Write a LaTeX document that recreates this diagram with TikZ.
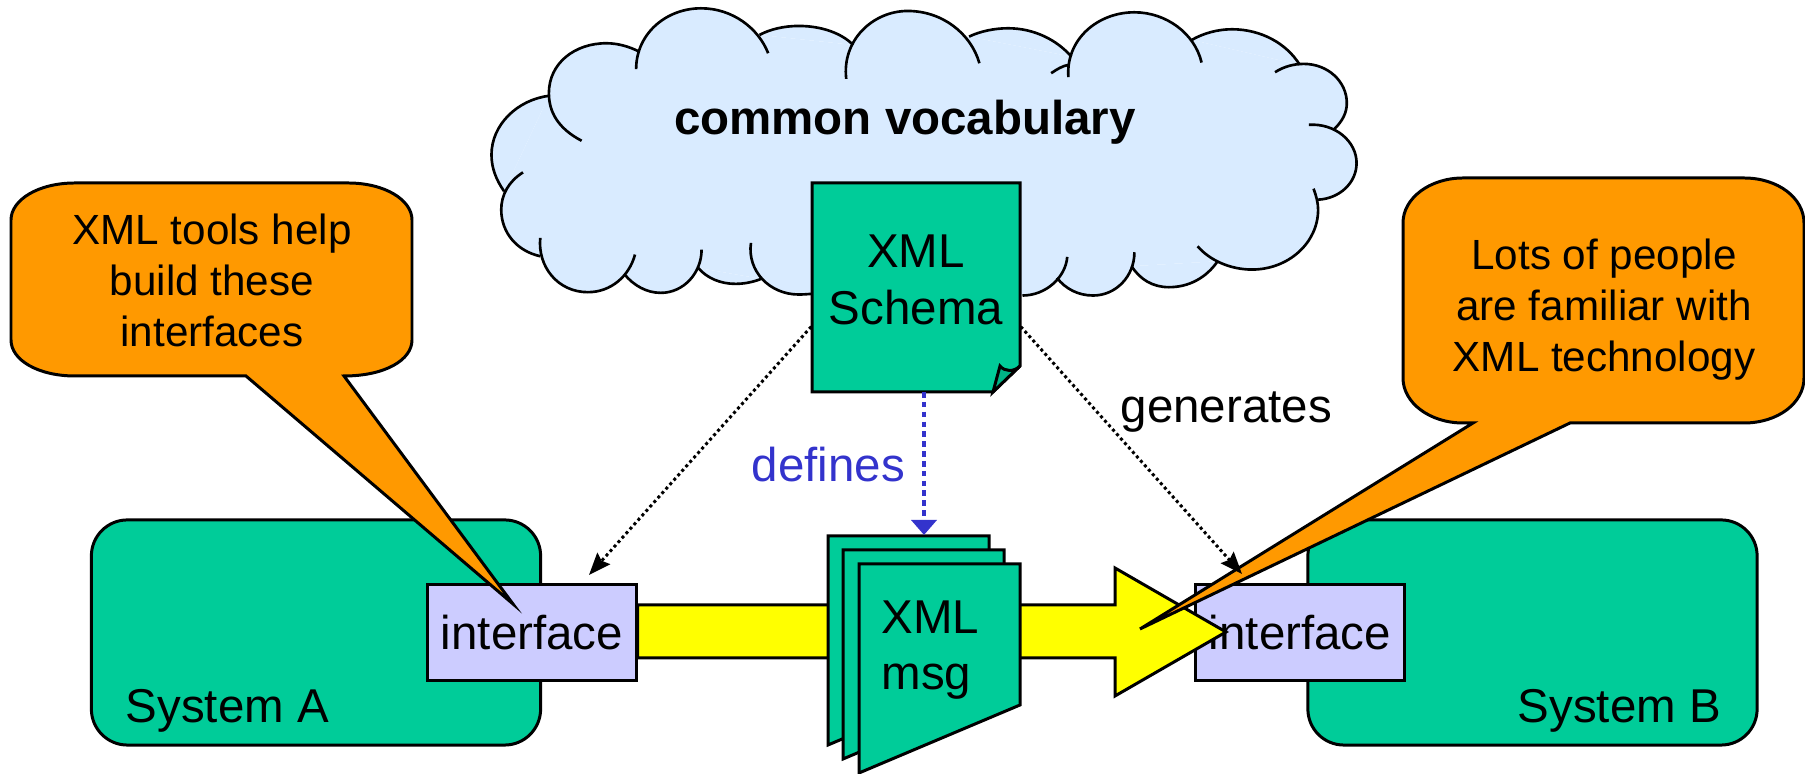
\documentclass[tikz,border=0pt]{standalone}
\usepackage{fontspec}
\setmainfont{Liberation Sans}
\usetikzlibrary{arrows.meta}
\definecolor{cloudblue}{HTML}{D9EBFF}
\definecolor{boxgreen}{HTML}{00CC99}
\definecolor{folddark}{HTML}{00B386}
\definecolor{ifacelilac}{HTML}{CCCCFF}
\definecolor{noteorange}{HTML}{FF9900}
\definecolor{defblue}{HTML}{3333CC}
\definecolor{bandyellow}{HTML}{FFFF00}
\newcommand{\cloudarcs}{%
    \bump{(177,423) .. controls (135,385) and (120,335) .. (120,280) .. controls (120,190) and (165,130) .. (220,130) .. controls (240,130) and (260,140) .. (277,155)}
    \bump{(272,208) .. controls (272,100) and (325,25) .. (385,25) .. controls (440,25) and (485,85) .. (502,160)}
    \bump{(487,105) .. controls (505,88) and (530,78) .. (555,78) .. controls (595,78) and (630,100) .. (650,135)}
    \bump{(638,237) .. controls (630,120) and (685,33) .. (745,33) .. controls (805,33) and (855,100) .. (870,190)}
    \bump{(852,110) .. controls (870,95) and (895,85) .. (920,85) .. controls (965,85) and (1005,120) .. (1030,170)}
    \bump{(1025,232) .. controls (1020,120) and (1075,37) .. (1140,37) .. controls (1195,37) and (1245,100) .. (1257,188)}
    \bump{(1240,120) .. controls (1260,100) and (1285,88) .. (1310,88) .. controls (1360,88) and (1405,130) .. (1428,195)}
    \bump{(1385,217) .. controls (1400,200) and (1418,192) .. (1435,192) .. controls (1477,192) and (1510,245) .. (1510,310) .. controls (1510,340) and (1502,365) .. (1487,390)}
    \bump{(1444,375) .. controls (1490,370) and (1527,425) .. (1527,490) .. controls (1527,550) and (1497,597) .. (1460,600)}
    \bump{(1452,567) .. controls (1457,590) and (1460,610) .. (1460,630) .. controls (1460,730) and (1408,810) .. (1345,810) .. controls (1305,810) and (1270,780) .. (1250,740)}
    \bump{(1285,785) .. controls (1265,835) and (1235,863) .. (1200,863) .. controls (1172,863) and (1150,840) .. (1135,800)}
    \bump{(1140,758) .. controls (1140,830) and (1108,888) .. (1068,888) .. controls (1042,888) and (1020,868) .. (1005,835)}
    \bump{(1023,772) .. controls (1020,835) and (985,888) .. (945,888)}
    \bump{(472,730) .. controls (465,815) and (505,885) .. (555,885) .. controls (563,885) and (570,884) .. (578,883)}
    \bump{(490,838) .. controls (475,848) and (460,853) .. (445,853) .. controls (418,853) and (395,835) .. (380,805)}
    \bump{(386,750) .. controls (386,820) and (355,880) .. (315,880) .. controls (290,880) and (268,858) .. (252,825)}
    \bump{(270,765) .. controls (260,830) and (228,878) .. (188,878) .. controls (135,878) and (100,800) .. (105,715)}
    \bump{(105,770) .. controls (65,755) and (37,700) .. (37,630) .. controls (37,585) and (50,545) .. (75,518)}
    \bump{(42,575) .. controls (28,540) and (20,505) .. (20,465) .. controls (20,375) and (65,300) .. (120,288)}
    \bump{(995,220) .. controls (1005,208) and (1015,198) .. (1025,195)}
}

\begin{document}
\begin{tikzpicture}[x=0.01cm,y=-0.01cm,
        every node/.style={font=\fontsize{13.5}{16.2}\selectfont},
        outline/.style={draw=black,line width=0.85pt},
        sysbox/.style={outline,fill=boxgreen,rounded corners=0.36cm,minimum width=4.49cm,minimum height=2.25cm},
        ifacebox/.style={outline,fill=ifacelilac,minimum width=2.08cm,minimum height=0.965cm,inner sep=0pt},
        plainlabel/.style={anchor=base west,inner sep=0pt},
        notetext/.style={font=\fontsize{12}{14.5}\selectfont,align=center,inner sep=0pt},
        page/.style={outline,fill=boxgreen,line join=miter},
        band/.style={outline,fill=bandyellow},
        note/.style={outline,fill=noteorange,line join=miter},
        genarrow/.style={black,line width=0.85pt,dash pattern=on 0.85pt off 0.85pt,-{Stealth[length=2.2mm,width=1.7mm,inset=0.3mm]}},
        defarrow/.style={defblue,line width=1.2pt,dash pattern=on 1.6pt off 1.2pt,-{Triangle[length=1.5mm,width=2.5mm]}}]
    \useasboundingbox (0,0) rectangle (1805,774);

    % cloud
    \begin{scope}[shift={(480,0)},x=0.00574cm,y=-0.00333cm]
        \fill[cloudblue] (120,288) -- (220,135) -- (277,155) -- (487,105) -- (650,135) -- (852,110)
            -- (1030,170) -- (1240,120) -- (1428,195) -- (1487,390) -- (1460,600) -- (1285,785)
            -- (1135,800) -- (1005,835) -- (945,885) -- (578,883) -- (490,838) -- (380,805)
            -- (252,825) -- (105,770) -- (42,575) -- cycle;
        \def\bump#1{\fill[cloudblue] #1;}
        \cloudarcs
        \def\bump#1{\draw[black,line width=0.75pt] #1;}
        \cloudarcs
    \end{scope}
    \node[font=\fontsize{13.5}{16.2}\selectfont\bfseries,anchor=base,inner sep=0pt] (vocab) at (905,135) {common vocabulary};

    % schema page
    \draw[page] (812,183) -- (1020,183) -- (1020,366) -- (993,392) -- (812,392) -- cycle;
    \draw[page,fill=folddark] (993,392) -- (1000,366) .. controls (1005,372) and (1014,372) .. (1020,366) -- cycle;
    \node[align=center,inner sep=0pt,minimum width=2.08cm,minimum height=2.09cm] (schema) at (916,280) {XML\\Schema};

    % the two systems
    \node[sysbox] (sysa) at (316,632.5) {};
    \node[sysbox] (sysb) at (1532.5,632.5) {};
    \node[plainlabel] (labela) at (125,723) {System A};
    \node[plainlabel] (labelb) at (1517,723) {System B};
    \node[ifacebox] (ifacea) at (532,632.5) {interface};
    \node[ifacebox] (ifaceb) at (1300,632.5) {interface};

    % message band
    \draw[band] (ifacea.east |- 0,605) -- (1115,605) -- (1115,568) -- (1226,632)
        -- (1115,696) -- (1115,658) -- (ifacea.east |- 0,658) -- cycle;

    % message pages
    \foreach \dx/\dy in {0/0,15/14,31/28}
    \draw[page] (828+\dx,536+\dy) -- (989+\dx,536+\dy) -- (989+\dx,677+\dy) -- (828+\dx,745+\dy) -- cycle;
    \node[align=left,anchor=base west,inner sep=0pt] (msg) at (881,690) {XML\\msg};

    % callouts
    \draw[note] (75,183) -- (348,183) .. controls (385,183) and (412,200) .. (412,220)
        -- (412,340) .. controls (412,360) and (385,376) .. (344,376)
        -- (513,604) -- (246,376) -- (75,376) .. controls (38,376) and (11,360) .. (11,340)
        -- (11,220) .. controls (11,200) and (38,183) .. (75,183) -- cycle;
    \node[notetext] (notea) at (212,280) {XML tools help\\build these\\interfaces};
    \draw[note] (1463,178) -- (1744,178) .. controls (1778,178) and (1804,198) .. (1804,223)
        -- (1804,378) .. controls (1804,403) and (1778,423) .. (1744,423) -- (1570,423)
        -- (1140,629) -- (1473,423) -- (1463,423) .. controls (1430,423) and (1403,403) .. (1403,378)
        -- (1403,223) .. controls (1403,198) and (1430,178) .. (1463,178) -- cycle;
    \node[notetext] (noteb) at (1604,310) {Lots of people\\are familiar with\\XML technology};

    % connectors
    \coordinate (tipa) at (589,575);
    \coordinate (tipb) at (1242,574);
    \coordinate (defstart) at (924,392);
    \coordinate (deftip) at (924,535);
    \draw[genarrow] (schema.204) -- (tipa);
    \draw[genarrow] (schema.336) -- (tipb);
    \draw[defarrow] (defstart) -- (deftip);
    \node[plainlabel,text=defblue] (defines) at (751,482) {defines};
    \node[plainlabel] (generates) at (1120,423) {generates};
\end{tikzpicture}
\end{document}
